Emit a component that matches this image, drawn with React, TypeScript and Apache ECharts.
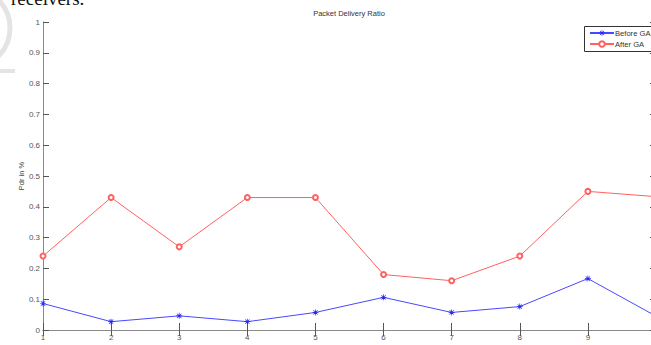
import React, { useEffect, useRef } from "react";
import * as echarts from "echarts";

const iterations = [1, 2, 3, 4, 5, 6, 7, 8, 9, 10];
const beforeGA = [0.086, 0.027, 0.046, 0.027, 0.057, 0.106, 0.057, 0.076, 0.167, 0.045];
const afterGA = [0.24, 0.43, 0.27, 0.43, 0.43, 0.18, 0.16, 0.24, 0.45, 0.433];
const seriesNames = ["Before GA", "After GA"];
const chartTitle = "Packet Delivery Ratio";
const yAxisName = "Pdr in %";
const xAxisName = "Iterations";

const asterisk =
  "path://M4.4,0L5.6,0L5.6,10L4.4,10Z M0,4.4L10,4.4L10,5.6L0,5.6Z M1,1.8L1.8,1L9,8.2L8.2,9Z M8.2,1L9,1.8L1.8,9L1,8.2Z";

const FONT = "'Liberation Sans', Arial, Helvetica, sans-serif";

export default function App() {
  const ref = useRef<HTMLDivElement>(null);
  useEffect(() => {
    if (!ref.current) return;
    const chart = echarts.init(ref.current, null, { renderer: "svg" });
    const axisLine = { show: true, lineStyle: { color: "#8a8a8a", width: 1 } };
    const tick = { show: true, inside: true, length: 6, lineStyle: { color: "#555", width: 1 } };
    chart.setOption({
      animation: false,
      backgroundColor: "#ffffff",
      textStyle: { fontFamily: FONT },
      grid: { left: 43, top: 22, width: 613, height: 308, containLabel: false, outerBoundsMode: "none" },
      graphic: [
        {
          type: "arc",
          shape: { cx: -30, cy: 28, r: 40, startAngle: -Math.PI / 2, endAngle: Math.PI / 2 },
          style: { stroke: "#e4e4e4", lineWidth: 5, fill: "none" },
          silent: true,
        },
        { type: "rect", shape: { x: 0, y: 69, width: 15, height: 4 }, style: { fill: "#e4e4e4" }, silent: true },
        {
          type: "rect",
          z: 3,
          shape: { x: 584.5, y: 26.5, width: 120, height: 25 },
          style: { fill: "#fff", stroke: "#333", lineWidth: 1 },
          silent: true,
        },
        {
          type: "text",
          x: 11,
          y: 8,
          style: {
            text: "receivers.",
            font: "19px 'Liberation Serif', 'DejaVu Serif', serif",
            fill: "#111",
            textVerticalAlign: "bottom",
          },
          silent: true,
        },
        {
          type: "text",
          x: 349,
          y: 13,
          style: {
            text: chartTitle,
            font: "7.5px " + FONT,
            fill: "#333",
            textAlign: "center",
            textVerticalAlign: "middle",
          },
        },
      ],
      legend: {
        orient: "vertical",
        left: 585,
        top: 27,
        padding: [2, 2, 2, 4],
        itemWidth: 24,
        itemHeight: 7,
        itemGap: 3,
        borderWidth: 0,
        textStyle: { fontSize: 7.6, color: "#333", fontFamily: FONT, padding: [0, 0, 0, -4] },
        data: seriesNames,
      },
      xAxis: [
        {
          type: "value",
          min: 1,
          max: 10,
          interval: 1,
          position: "bottom",
          name: xAxisName,
          nameLocation: "middle",
          nameGap: 13,
          nameMoveOverlap: false,
          nameTextStyle: { fontSize: 7.5, color: "#444", fontFamily: FONT },
          axisLine,
          axisTick: { ...tick, length: 7 },
          splitLine: { show: false },
          axisLabel: { fontSize: 8, color: "#555", margin: 3, fontFamily: FONT },
        },
        {
          type: "value",
          min: 1,
          max: 10,
          interval: 1,
          position: "top",
          axisLine,
          axisTick: tick,
          splitLine: { show: false },
          axisLabel: { show: false },
        },
      ],
      yAxis: [
        {
          type: "value",
          min: 0,
          max: 1,
          interval: 0.1,
          position: "left",
          name: yAxisName,
          nameLocation: "middle",
          nameRotate: 90,
          nameGap: 18,
          nameMoveOverlap: false,
          nameTextStyle: { fontSize: 7.5, color: "#444", fontFamily: FONT },
          axisLine,
          axisTick: tick,
          splitLine: { show: false },
          axisLabel: {
            fontSize: 8,
            color: "#555",
            margin: 3,
            fontFamily: FONT,
            formatter: (v: number) => String(Math.round(v * 10) / 10),
          },
        },
        {
          type: "value",
          min: 0,
          max: 1,
          interval: 0.1,
          position: "right",
          axisLine,
          axisTick: tick,
          splitLine: { show: false },
          axisLabel: { show: false },
        },
      ],
      series: [
        {
          name: seriesNames[0],
          type: "line",
          data: iterations.map((x, i) => [x, beforeGA[i]]),
          symbol: asterisk,
          symbolSize: 6,
          showAllSymbol: true,
          lineStyle: { color: "#4848ff", width: 1 },
          itemStyle: { color: "#2525ff" },
        },
        {
          name: seriesNames[1],
          type: "line",
          data: iterations.map((x, i) => [x, afterGA[i]]),
          symbol: "emptyCircle",
          symbolSize: 5,
          showAllSymbol: true,
          lineStyle: { color: "#ff6161", width: 1 },
          itemStyle: { color: "#ff6161", borderColor: "#ff5a5a", borderWidth: 0.8 },
        },
      ],
    });
    return () => chart.dispose();
  }, []);
  return (
    <div
      ref={ref}
      style={{ position: "absolute", left: 0, top: 0, width: 651, height: 345, background: "#fff" }}
    />
  );
}
